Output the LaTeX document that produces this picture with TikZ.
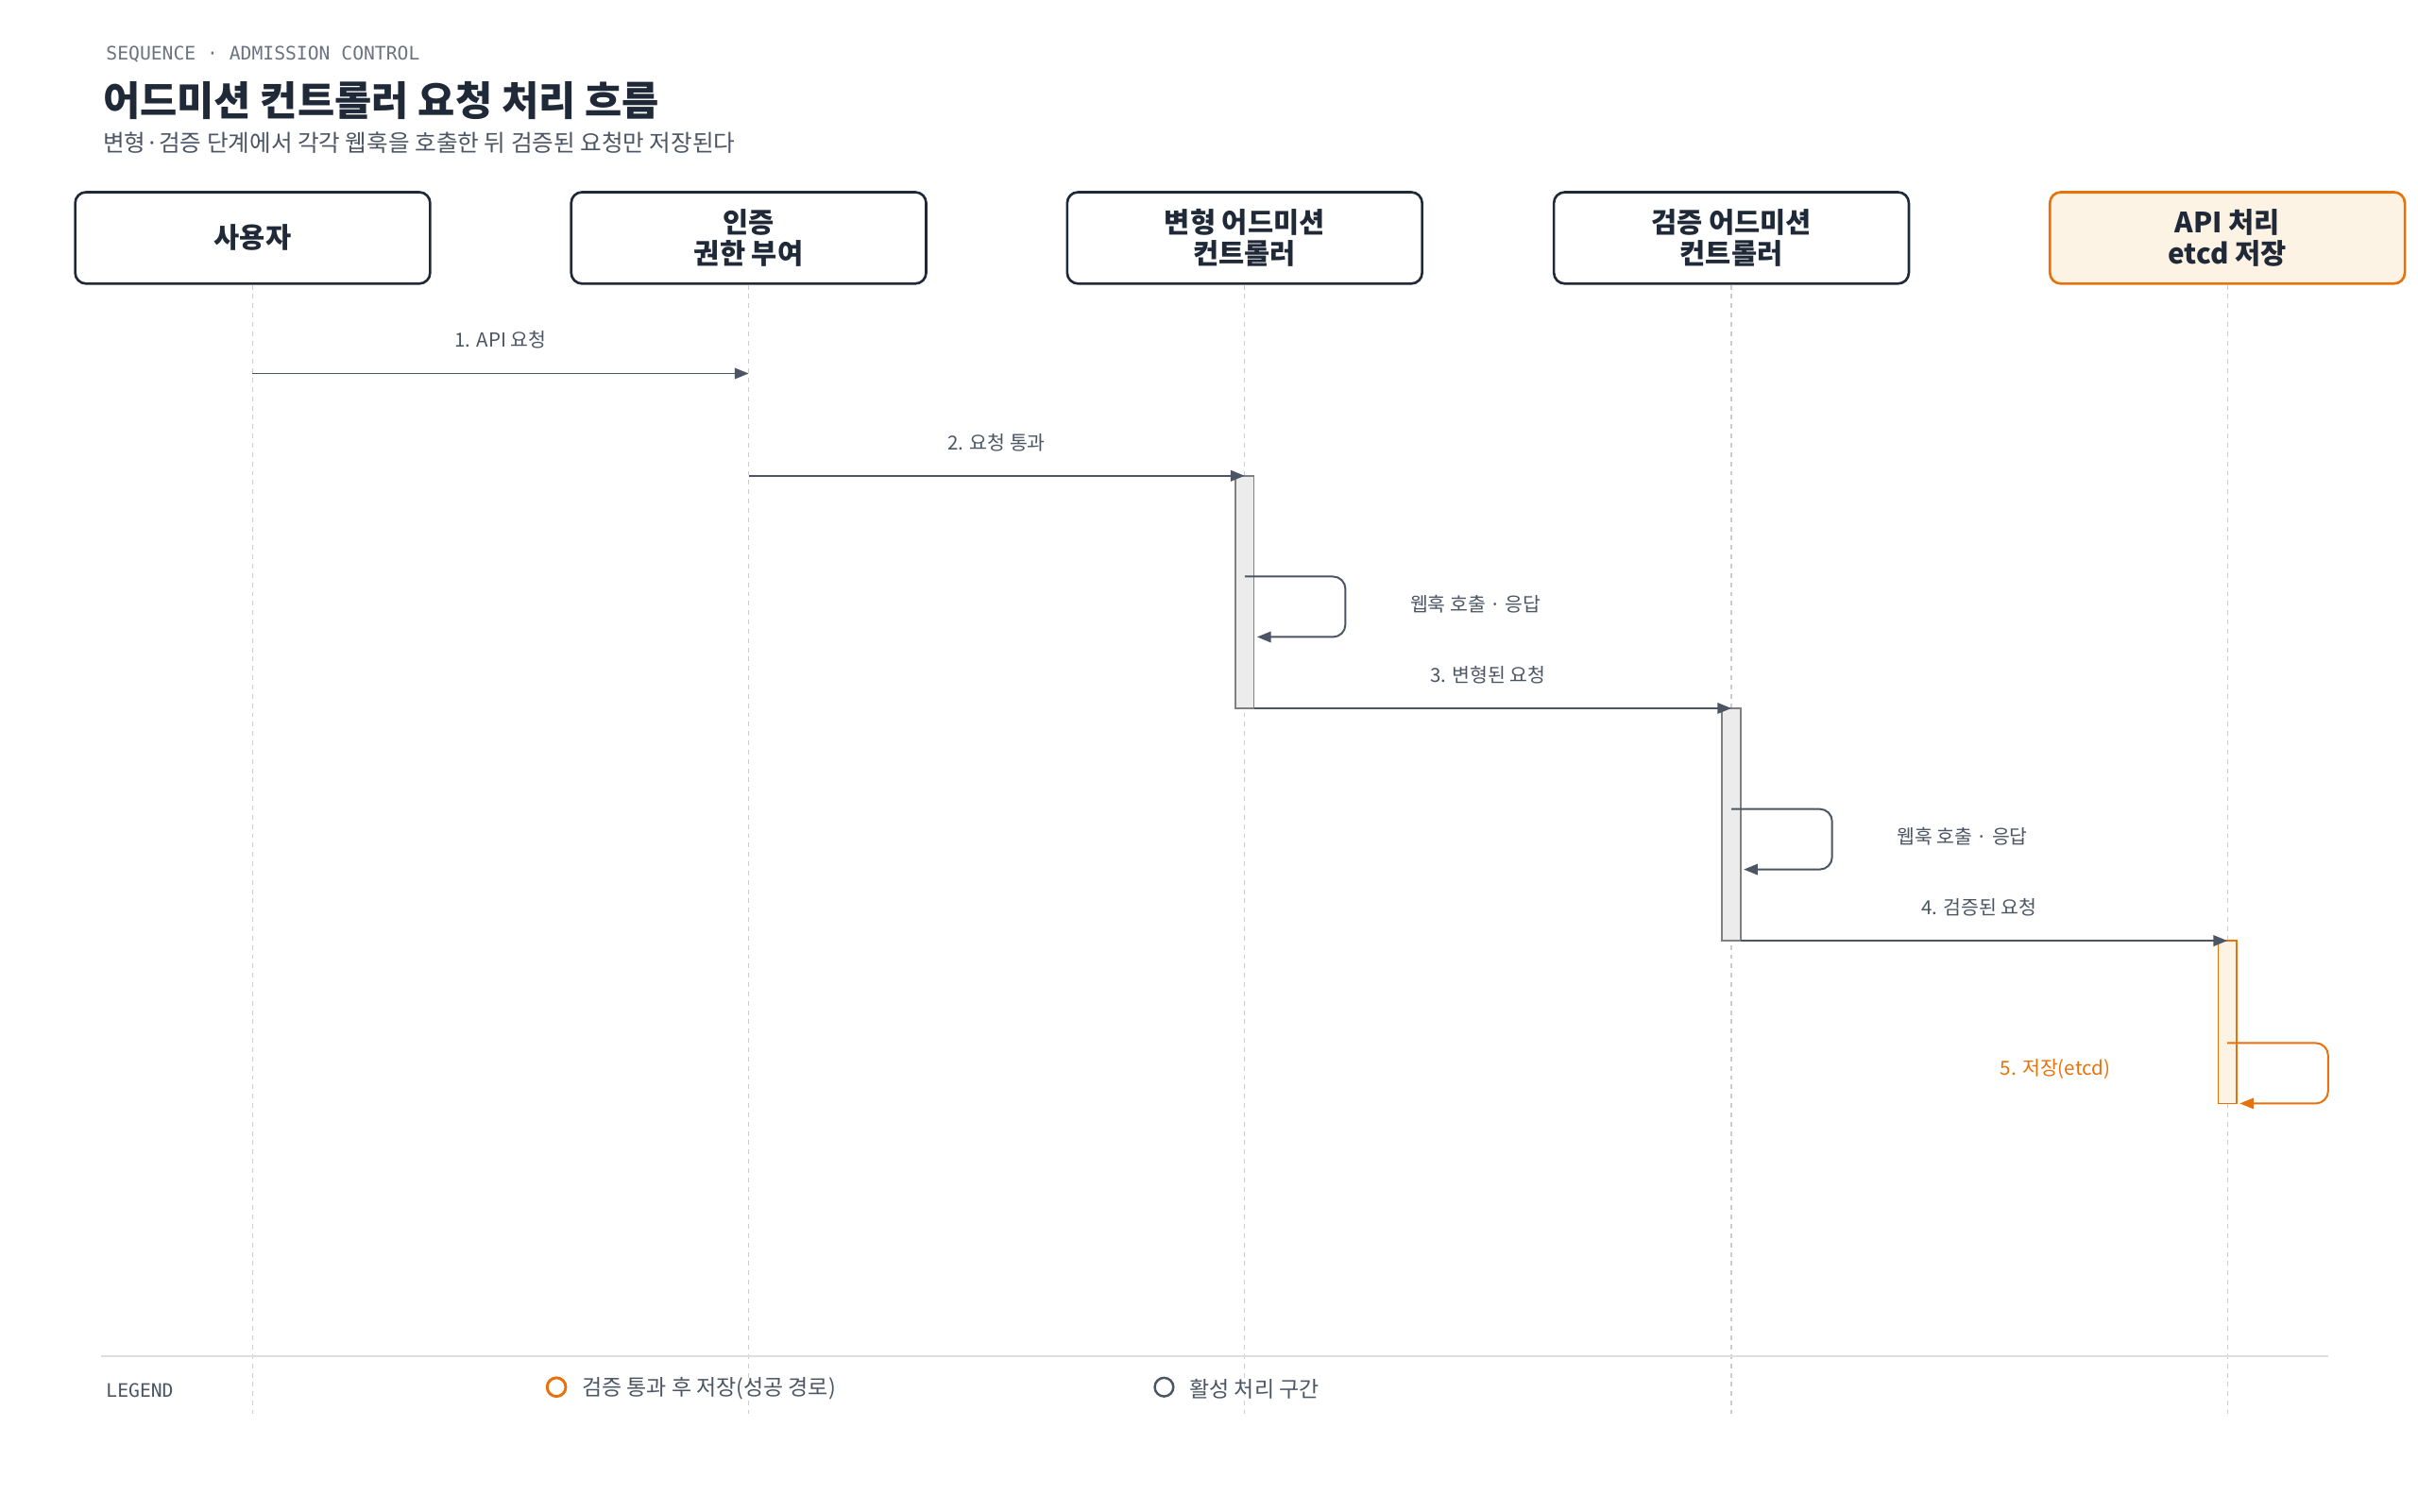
\documentclass[tikz,border=0pt]{standalone}
\usepackage{fontspec}
\setmainfont{Noto Sans CJK KR}
\newfontfamily\monof{DejaVu Sans Mono}
\usetikzlibrary{arrows.meta}
\definecolor{navy}{HTML}{1F2937}
\definecolor{ln}{HTML}{4B5563}
\definecolor{org}{HTML}{E8710A}
\definecolor{orgf}{HTML}{FDF3E4}
\definecolor{gr}{HTML}{6B7280}
\begin{document}
\begin{tikzpicture}[x=1pt,y=-1pt,
 actor/.style={draw=navy,line width=1.6pt,rounded corners=7pt,minimum width=229pt,minimum height=59pt,align=center,font=\fontsize{18}{20}\selectfont\bfseries,text=navy},
 life/.style={draw=gray!40,dashed,line width=0.8pt},
 msg/.style={draw=ln,line width=1.2pt,-{Triangle[length=9pt,width=7pt]}},
 lbl/.style={font=\fontsize{12.5}{14}\selectfont,text=ln},
 bar/.style={draw=gray,fill=gray!15,line width=1pt}]
\useasboundingbox (0,0) rectangle (1560,975);
\node[anchor=west,text=gr,font=\monof\fontsize{12}{14}\selectfont] (hd) at (65,35) {SEQUENCE · ADMISSION CONTROL};
\node[anchor=west,text=navy,font=\fontsize{26}{30}\selectfont\bfseries] (tt) at (63,65) {어드미션 컨트롤러 요청 처리 흐름};
\node[anchor=west,text=ln,font=\fontsize{15}{18}\selectfont] (st) at (63,92) {변형·검증 단계에서 각각 웹훅을 호출한 뒤 검증된 요청만 저장된다};
\foreach \n/\x/\t in {a/163/사용자,b/483/인증\\권한 부여,c/803/변형 어드미션\\컨트롤러,d/1117/검증 어드미션\\컨트롤러}{
 \node[actor] (\n) at (\x,153.5) {\t};
 \coordinate (\n e) at (\x,912);
 \draw[life] (\n) -- (\n e);}
\node[actor,draw=org,fill=orgf] (e) at (1437,153.5) {API 처리\\etcd 저장};
\coordinate (ee) at (1437,912);
\draw[life] (e) -- (ee);
% bars
\draw[bar] (797,307) rectangle (809,457);
\draw[bar] (1111,457) rectangle (1123,607);
\draw[draw=org,fill=orgf,line width=1pt] (1431,607) rectangle (1443,712);
% messages
\coordinate (m1a) at (163,241); \coordinate (m1b) at (483,241);
\draw[msg] (m1a) -- (m1b) node[lbl,midway,above=12pt] {1. API 요청};
\coordinate (m2a) at (483,307); \coordinate (m2b) at (803,307);
\draw[msg] (m2a) -- (m2b) node[lbl,midway,above=12pt] {2. 요청 통과};
\coordinate (m3a) at (809,457); \coordinate (m3b) at (1117,457);
\draw[msg] (m3a) -- (m3b) node[lbl,pos=0.49,above=12pt] {3. 변형된 요청};
\coordinate (m4a) at (1123,607); \coordinate (m4b) at (1437,607);
\draw[msg] (m4a) -- (m4b) node[lbl,pos=0.49,above=12pt] {4. 검증된 요청};
% loops
\coordinate (l1a) at (803,372); \coordinate (l1b) at (811,411);
\draw[msg,rounded corners=8pt] (l1a) -- (868,372) -- (868,411) -- (l1b);
\node[lbl] (l1) at (952,390) {웹훅 호출 · 응답};
\coordinate (l2a) at (1117,522); \coordinate (l2b) at (1125,561);
\draw[msg,rounded corners=8pt] (l2a) -- (1182,522) -- (1182,561) -- (l2b);
\node[lbl] (l2) at (1266,540) {웹훅 호출 · 응답};
\coordinate (l3a) at (1437,673); \coordinate (l3b) at (1445,712);
\draw[msg,draw=org,fill=none,rounded corners=8pt] (l3a) -- (1502,673) -- (1502,712) -- (l3b);
\node[lbl,text=org] (l3) at (1326,690) {5. 저장(etcd)};
% legend
\draw[gray!25,line width=1pt] (65,875) -- (1502,875);
\node[anchor=west,text=ln,font=\monof\fontsize{12}{14}\selectfont] (lg) at (65,897) {LEGEND};
\draw[org,line width=1.8pt] (359,895) circle (6);
\node[anchor=west,text=ln,font=\fontsize{14}{16}\selectfont] (lg1) at (372,896) {검증 통과 후 저장(성공 경로)};
\draw[ln,line width=1.5pt] (751,895) circle (6);
\node[anchor=west,text=ln,font=\fontsize{14}{16}\selectfont] (lg2) at (764,896) {활성 처리 구간};
\end{tikzpicture}
\end{document}
